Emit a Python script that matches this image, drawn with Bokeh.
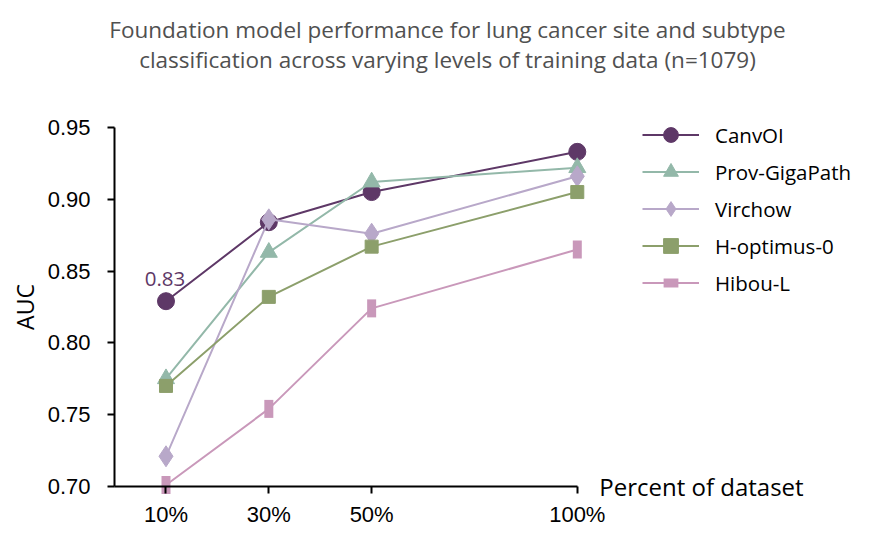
import math
from bokeh.plotting import figure
from bokeh.models import Range1d, FixedTicker, Legend, LegendItem, Label
from bokeh.embed import file_html
from bokeh.resources import INLINE

# ---- data ----
pct_labels = ["10%", "30%", "50%", "100%"]
x_pos = [1, 2, 3, 5]
canvoi = [0.829, 0.884, 0.905, 0.933]
prov_gigapath = [0.775, 0.863, 0.912, 0.922]
virchow = [0.721, 0.886, 0.876, 0.916]
h_optimus = [0.770, 0.832, 0.867, 0.905]
hibou = [0.701, 0.754, 0.824, 0.865]
y_ticks = [0.70, 0.75, 0.80, 0.85, 0.90, 0.95]

series = [
    ("CanvOI", canvoi, "#5e3867", "circle", 17, 0.0),
    ("Prov-GigaPath", prov_gigapath, "#93b8a9", "triangle", 17, 0.0),
    ("Virchow", virchow, "#b8a8c9", "diamond", 21, 0.0),
    ("H-optimus-0", h_optimus, "#8c9f6b", "square", 13, 0.0),
    ("Hibou-L", hibou, "#c998ba", "bar", 18, math.pi / 2),
]

FONT = "Open Sans"
X_START = 0.5

p = figure(width=861, height=526, output_backend="svg", toolbar_location=None,
           x_range=Range1d(-0.6095, 7.764), y_range=Range1d(0.6721, 1.0384),
           frame_width=861, frame_height=526,
           min_border_left=0, min_border_right=0,
           min_border_top=0, min_border_bottom=0)
p.outline_line_color = None
p.xgrid.visible = False
p.ygrid.visible = False
p.background_fill_color = "white"
p.border_fill_color = "white"

# axes
p.xaxis.ticker = FixedTicker(ticks=x_pos)
p.xaxis.major_label_overrides = {x: l for x, l in zip(x_pos, pct_labels)}
p.xaxis.bounds = (X_START, x_pos[-1])
p.xaxis.fixed_location = y_ticks[0]
p.yaxis.ticker = FixedTicker(ticks=y_ticks)
p.yaxis.major_label_overrides = {t: f"{t:.2f}" for t in y_ticks}
p.yaxis.bounds = (y_ticks[0], y_ticks[-1])
p.yaxis.fixed_location = X_START
for ax in (p.xaxis[0], p.yaxis[0]):
    ax.axis_line_width = 2
    ax.axis_line_color = "black"
    ax.major_tick_line_width = 2
    ax.major_tick_line_color = "black"
    ax.major_tick_out = 7
    ax.major_tick_in = 0
    ax.minor_tick_line_color = None
    ax.major_label_text_font = "Liberation Sans"
    ax.major_label_text_font_size = "22px"
    ax.major_label_text_color = "black"
p.xaxis.major_label_standoff = 9
p.yaxis.major_label_standoff = 17
p.yaxis.axis_label = "AUC"
p.yaxis.axis_label_text_font = FONT
p.yaxis.axis_label_text_font_style = "normal"
p.yaxis.axis_label_text_font_size = "23px"
p.yaxis.axis_label_text_color = "black"
p.yaxis.axis_label_standoff = 4

items = []
for name, vals, color, marker, size, angle in series:
    r_line = p.line(x_pos, vals, line_color=color, line_width=2)
    if marker == "bar":
        r_mark = p.scatter(x_pos, vals, marker="dash", size=size, angle=angle,
                           line_color=color, line_width=9)
    else:
        r_mark = p.scatter(x_pos, vals, marker=marker, size=size, angle=angle,
                           fill_color=color, line_color=color)
    items.append(LegendItem(label=name, renderers=[r_line, r_mark]))

legend = Legend(items=items, location=(642, 225), orientation="vertical",
                glyph_width=57, glyph_height=37, spacing=0, label_standoff=16,
                padding=0, margin=0, border_line_color=None,
                background_fill_alpha=0,
                label_text_font=FONT, label_text_font_size="20.5px",
                label_text_color="black")
p.add_layout(legend, "center")

# value annotation for CanvOI at 10%
p.add_layout(Label(x=x_pos[0], y=canvoi[0], text=f"{canvoi[0]:.2f}", x_offset=-1, y_offset=15,
                   text_align="center", text_baseline="bottom",
                   text_font=FONT, text_font_size="20.5px", text_color="#5e3867"))

# x axis title at right end of the axis
p.add_layout(Label(x=x_pos[-1], y=y_ticks[0], text="Percent of dataset", x_offset=22,
                   text_align="left", text_baseline="middle",
                   text_font=FONT, text_font_size="24px", text_color="black"))

# chart title (two lines)
title_lines = ["Foundation model performance for lung cancer site and subtype",
               "classification across varying levels of training data (n=1079)"]
for i, line in enumerate(title_lines):
    p.add_layout(Label(x=447, y=497 - 30 * i, x_units="screen", y_units="screen",
                       text=line, text_align="center", text_baseline="middle",
                       text_font=FONT, text_font_size="22.5px", text_color="#505050"))

open("out.html", "w").write(file_html(p, INLINE))
